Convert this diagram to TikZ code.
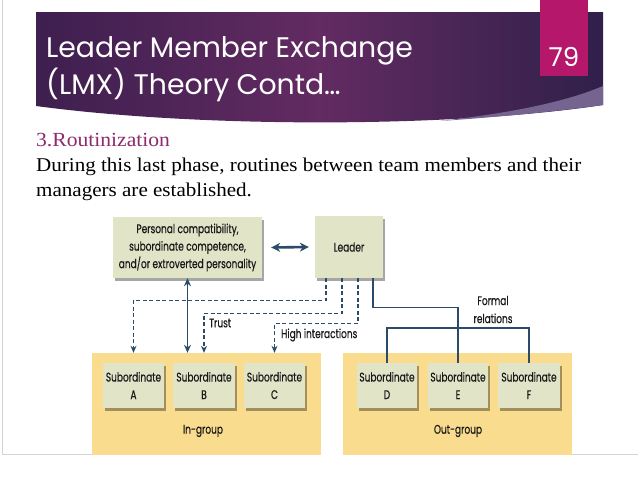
\documentclass[tikz,border=0pt]{standalone}
\usepackage{fontspec}
\usetikzlibrary{arrows.meta,shadows}
\newfontfamily\titlefont{Poppins}
\newfontfamily\bodyfont[FakeStretch=1.08]{Liberation Serif}
\newfontfamily\diagfont[FakeStretch=0.72,FakeBold=0.4]{Poppins}
\definecolor{bannerL}{HTML}{3E1F4F}
\definecolor{bannerM}{HTML}{622B62}
\definecolor{bannerR}{HTML}{30204A}
\definecolor{swoosh}{HTML}{75648F}
\definecolor{pinkbox}{HTML}{B5176B}
\definecolor{headcol}{HTML}{8E2A6E}
\definecolor{navy}{HTML}{2C4A6A}
\definecolor{boxfill}{HTML}{E2E4C8}
\definecolor{grpfill}{HTML}{F9DC8E}
\definecolor{rule}{HTML}{D4D4D4}
\tikzset{
  box/.style={fill=boxfill, inner sep=0pt, align=center, text=black!90,
    font=\diagfont\fontsize{12.5}{17.5}\selectfont,
    drop shadow={shadow xshift=2pt, shadow yshift=-2.5pt, fill=black, opacity=0.35}},
  subbox/.style={box, minimum height=45pt},
  grp/.style={fill=grpfill, inner sep=0pt, minimum width=229pt, minimum height=102pt},
  lbl/.style={font=\diagfont\fontsize{12.5}{18}\selectfont, text=black!90, inner sep=0pt, align=center},
  conn/.style={draw=navy, line width=1.2pt},
  dashconn/.style={conn, dash pattern=on 4pt off 2.5pt, -{Stealth[length=7pt,width=6pt]}},
  dblarrow/.style={draw=navy, line width=1.6pt, {Stealth[length=8pt,width=7pt]}-{Stealth[length=8pt,width=7pt]}},
  hdblarrow/.style={draw=navy, line width=2.6pt, {Stealth[length=9pt,width=9pt]}-{Stealth[length=9pt,width=9pt]}},
}
\begin{document}
\begin{tikzpicture}[x=1pt,y=-1pt]
\useasboundingbox (0,0) rectangle (638,479);
\fill[white] (0,0) rectangle (638,479);
% slide frame lines
\draw[rule, line width=0.8pt] (2,0) -- (2,454) -- (92,454);
\draw[rule, line width=0.8pt] (572,454) -- (638,454);
% banner
\shade[left color=bannerL, right color=bannerR, middle color=bannerM]
  (36,12) -- (603,12) -- (603,105) .. controls (450,128) and (200,128) .. (36,106) -- cycle;
\fill[swoosh] (603,86) .. controls (570,100) and (520,112) .. (440,121)
  .. controls (500,117) and (560,111) .. (603,105) -- cycle;
\fill[pinkbox] (540,0) rectangle (588,76);
\node[text=white, font=\titlefont\fontsize{26}{26}\selectfont, inner sep=0pt] (num) at (564,57) {79};
\node[anchor=base west, text=white, font=\titlefont\fontsize{28.3}{28}\selectfont, inner sep=0pt] (t1) at (46,57) {Leader Member Exchange};
\node[anchor=base west, text=white, font=\titlefont\fontsize{28.3}{28}\selectfont, inner sep=0pt] (t2) at (46,94) {(LMX) Theory Contd\ldots};
% body text
\node[anchor=base west, text=headcol, font=\bodyfont\fontsize{20}{20}\selectfont, inner sep=0pt] (h) at (36,146) {3.Routinization};
\node[anchor=base west, text=black, font=\bodyfont\fontsize{19.5}{19.5}\selectfont, inner sep=0pt] (b1) at (36,171) {During this last phase, routines between team members and their};
\node[anchor=base west, text=black, font=\bodyfont\fontsize{19.5}{19.5}\selectfont, inner sep=0pt] (b2) at (36,196) {managers are established.};
% groups
\node[grp] (ing) at (206.5,404) {};
\node[grp] (outg) at (457.5,404) {};
\node[lbl] (ingl) at (203,431) {In-group};
\node[lbl] (outgl) at (458,431) {Out-group};
% top boxes
\node[box, minimum width=149pt, minimum height=61pt] (pc) at (187.5,247.5) {Personal compatibility,\\subordinate competence,\\and/or extroverted personality};
\node[box, minimum width=68pt, minimum height=62pt] (leader) at (349,247) {Leader};
% subordinates
\node[subbox, minimum width=61pt] (A) at (133.5,385.5) {Subordinate\\A};
\node[subbox, minimum width=62pt] (B) at (204,385.5) {Subordinate\\B};
\node[subbox, minimum width=61pt] (C) at (274.5,385.5) {Subordinate\\C};
\node[subbox, minimum width=60pt] (D) at (387,385.5) {Subordinate\\D};
\node[subbox, minimum width=60pt] (E) at (458,385.5) {Subordinate\\E};
\node[subbox, minimum width=62pt] (F) at (529,385.5) {Subordinate\\F};
% connectors
\draw[hdblarrow] ([xshift=9pt]pc.east) -- ([xshift=-6pt]leader.west);
\draw[dblarrow] (pc.south) -- (pc.south |- ing.north);
\draw[dashconn] ([xshift=-23pt]leader.south) -- ++(0,22) -| (A.north |- ing.north);
\draw[dashconn] ([xshift=-7pt]leader.south) -- ++(0,35) -| (B.north |- ing.north);
\draw[dashconn] ([xshift=9pt]leader.south) -- ++(0,45) -| (C.north |- ing.north);
\coordinate (bus) at (458,328);
\draw[conn] ([xshift=24pt]leader.south) -- ++(0,29) -| (bus);
\draw[conn] (D.north) -- (D.north |- bus) -- (F.north |- bus) -- (F.north);
\draw[conn] (bus) -- (E.north);
% labels
\node[lbl, anchor=west] (trust) at (209,323) {Trust};
\node[lbl, anchor=west] (hi) at (281,335) {High interactions};
\node[lbl] (formal) at (493,309.5) {Formal\\relations};
\end{tikzpicture}
\end{document}
